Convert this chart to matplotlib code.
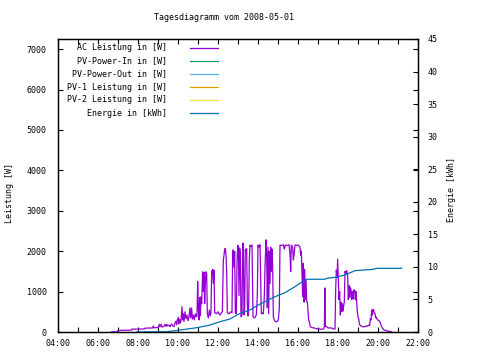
import matplotlib
matplotlib.use("Agg")
import matplotlib.pyplot as plt
from matplotlib.lines import Line2D
import pandas as pd

ac_leistung = [
    ("06:40", 0), ("06:59", 5), ("07:00", 40), ("07:40", 45), ("07:41", 70), ("08:20", 75),
    ("08:21", 95), ("08:44", 100), ("08:46", 150), ("08:48", 105), ("09:00", 110), ("09:04", 190),
    ("09:06", 130), ("09:09", 190), ("09:12", 120), ("09:18", 140), ("09:21", 190), ("09:24", 140),
    ("09:26", 190), ("09:29", 150), ("09:33", 170), ("09:36", 130), ("09:41", 200), ("09:44", 150),
    ("09:48", 130), ("09:51", 220), ("09:54", 270), ("09:56", 180), ("09:58", 300), ("10:01", 360),
    ("10:03", 200), ("10:05", 310), ("10:07", 230), ("10:09", 280), ("10:12", 625), ("10:14", 300),
    ("10:16", 450), ("10:18", 260), ("10:21", 500), ("10:24", 330), ("10:27", 420), ("10:30", 280),
    ("10:33", 380), ("10:36", 600), ("10:38", 350), ("10:41", 590), ("10:43", 320), ("10:46", 420),
    ("10:49", 300), ("10:52", 450), ("10:55", 380), ("10:57", 400), ("10:59", 1245), ("11:01", 600),
    ("11:03", 300), ("11:05", 850), ("11:07", 400), ("11:09", 870), ("11:11", 700), ("11:14", 1490),
    ("11:16", 1000), ("11:18", 1480), ("11:20", 700), ("11:22", 1200), ("11:24", 1490), ("11:26", 1450),
    ("11:28", 450), ("11:31", 350), ("11:34", 545), ("11:37", 400), ("11:39", 500), ("11:41", 1500),
    ("11:44", 1550), ("11:46", 1200), ("11:48", 1530), ("11:50", 480), ("11:55", 450), ("12:00", 500),
    ("12:05", 420), ("12:10", 470), ("12:13", 500), ("12:16", 1790), ("12:18", 1900), ("12:20", 2050),
    ("12:22", 2070), ("12:24", 1900), ("12:26", 1490), ("12:28", 480), ("12:33", 450), ("12:38", 500),
    ("12:42", 470), ("12:44", 2000), ("12:46", 2030), ("12:48", 1600), ("12:50", 1990), ("12:52", 470),
    ("12:55", 450), ("12:57", 1700), ("12:59", 2150), ("13:01", 2100), ("13:03", 900), ("13:05", 2080),
    ("13:07", 1900), ("13:09", 380), ("13:12", 420), ("13:14", 2200), ("13:16", 2190), ("13:18", 430),
    ("13:20", 600), ("13:22", 2050), ("13:24", 2000), ("13:26", 2060), ("13:28", 700), ("13:30", 400),
    ("13:32", 650), ("13:34", 1800), ("13:36", 2150), ("13:39", 2120), ("13:42", 2150), ("13:45", 380),
    ("13:48", 350), ("13:51", 360), ("13:55", 420), ("13:58", 900), ("14:00", 2150), ("14:03", 2100),
    ("14:06", 2160), ("14:08", 1300), ("14:10", 450), ("14:13", 470), ("14:16", 450), ("14:19", 900),
    ("14:21", 1600), ("14:24", 2280), ("14:26", 1900), ("14:28", 600), ("14:30", 2100), ("14:32", 450),
    ("14:34", 2000), ("14:36", 1200), ("14:38", 2100), ("14:40", 1500), ("14:42", 2050), ("14:44", 1600),
    ("14:46", 370), ("14:49", 300), ("14:52", 260), ("14:55", 250), ("14:58", 260), ("15:01", 300),
    ("15:04", 600), ("15:06", 2150), ("15:11", 2140), ("15:16", 2160), ("15:19", 2050), ("15:22", 2150),
    ("15:28", 2140), ("15:33", 2160), ("15:36", 1950), ("15:38", 1500), ("15:40", 2150), ("15:44", 2100),
    ("15:46", 1780), ("15:48", 1900), ("15:51", 2150), ("15:56", 2140), ("16:01", 2150), ("16:06", 2100),
    ("16:08", 1900), ("16:10", 2000), ("16:12", 1460), ("16:14", 875), ("16:16", 1700), ("16:18", 740),
    ("16:20", 1550), ("16:22", 800), ("16:24", 1300), ("16:26", 760), ("16:28", 740), ("16:30", 540),
    ("16:32", 300), ("16:34", 250), ("16:37", 130), ("16:41", 110), ("16:48", 100), ("16:56", 80),
    ("17:06", 70), ("17:16", 70), ("17:19", 120), ("17:21", 1090), ("17:22", 140), ("17:26", 130),
    ("17:31", 100), ("17:41", 100), ("17:46", 75), ("17:51", 75), ("17:53", 1040), ("17:55", 1530),
    ("17:57", 1350), ("17:59", 1800), ("18:01", 1290), ("18:03", 800), ("18:05", 1000), ("18:07", 420),
    ("18:09", 740), ("18:11", 500), ("18:13", 700), ("18:15", 520), ("18:17", 650), ("18:19", 750),
    ("18:21", 1500), ("18:24", 1450), ("18:26", 1520), ("18:29", 1400), ("18:31", 800), ("18:33", 1150),
    ("18:35", 850), ("18:37", 1100), ("18:39", 1050), ("18:41", 800), ("18:43", 1000), ("18:45", 820),
    ("18:47", 1040), ("18:50", 1040), ("18:52", 800), ("18:54", 1000), ("18:56", 740), ("18:58", 500),
    ("19:00", 370), ("19:02", 340), ("19:04", 200), ("19:06", 170), ("19:09", 150), ("19:14", 130),
    ("19:20", 130), ("19:24", 150), ("19:28", 140), ("19:32", 170), ("19:35", 160), ("19:37", 330),
    ("19:39", 300), ("19:41", 540), ("19:43", 420), ("19:45", 560), ("19:47", 540), ("19:49", 470),
    ("19:51", 460), ("19:53", 350), ("19:55", 370), ("19:58", 300), ("20:02", 290), ("20:06", 250),
    ("20:09", 170), ("20:13", 100), ("20:18", 50), ("20:24", 40), ("20:28", 20), ("20:38", 15),
    ("20:41", 0),
]

# Energie [kWh], kumuliert
energie = [
    ("07:56", 0.0), ("09:26", 0.05), ("10:06", 0.3), ("10:56", 0.66), ("11:36", 1.07),
    ("12:06", 1.58), ("12:36", 2.0), ("13:06", 2.87), ("13:36", 3.38), ("14:01", 4.15),
    ("14:21", 4.66), ("14:51", 5.42), ("15:21", 6.04), ("15:51", 6.96), ("16:21", 7.99),
    ("16:26", 8.1), ("17:21", 8.1), ("17:26", 8.25), ("17:51", 8.4), ("18:21", 8.76),
    ("18:51", 9.42), ("19:46", 9.63), ("19:56", 9.78), ("21:11", 9.78),
]

# diese Reihen haben an dem Tag keine Werte
pv_power_in = []
pv_power_out = []
pv1_leistung = []
pv2_leistung = []

zeit_labels = ["04:00", "06:00", "08:00", "10:00", "12:00", "14:00", "16:00",
               "18:00", "20:00", "22:00"]
leistung_ticks = [0, 1000, 2000, 3000, 4000, 5000, 6000, 7000]
energie_ticks = [0, 5, 10, 15, 20, 25, 30, 35, 40, 45]


def stunden(hhmm):
    h, m = hhmm.split(":")
    return int(h) + int(m) / 60


ac = pd.DataFrame(ac_leistung, columns=["zeit", "wert"])
ac["h"] = ac["zeit"].map(stunden)
en = pd.DataFrame(energie, columns=["zeit", "wert"])
en["h"] = en["zeit"].map(stunden)

plt.rcParams["font.family"] = "DejaVu Sans Mono"
plt.rcParams["font.size"] = 6

fig = plt.figure(figsize=(4.8, 3.6), dpi=100)
ax = fig.add_axes([58 / 480, 28 / 360, 360 / 480, 293 / 360])
ax2 = ax.twinx()

farben = ["#9400d3", "#009e73", "#56b4e9", "#e69f00", "#f0e442", "#0072b2"]
namen = ["AC Leistung in [W]", "PV-Power-In in [W]", "PV-Power-Out in [W]",
         "PV-1 Leistung in [W]", "PV-2 Leistung in [W]", "Energie in [kWh]"]

ax.plot(ac["h"], ac["wert"], color=farben[0], lw=0.9)
for reihe, f in zip([pv_power_in, pv_power_out, pv1_leistung, pv2_leistung], farben[1:5]):
    ax.plot([p[0] for p in reihe], [p[1] for p in reihe], color=f, lw=0.9)
ax2.plot(en["h"], en["wert"], color=farben[5], lw=0.9)

ax.set_xlim(4, 22)
ax.set_ylim(0, 7250)
ax2.set_ylim(0, 45)

ax.set_xticks([stunden(t) for t in zeit_labels])
ax.set_xticklabels(zeit_labels)
ax.set_xticks(range(5, 22, 2), minor=True)
ax.set_yticks(leistung_ticks)
ax2.set_yticks(energie_ticks)

ax.tick_params(axis="x", which="both", direction="in", top=True, length=3.5, width=0.8, pad=5)
ax.tick_params(axis="y", direction="in", right=True, length=3.5, width=0.8, pad=8)
ax2.tick_params(axis="y", direction="in", length=3.5, width=0.8, pad=7)

for a in (ax, ax2):
    for s in a.spines.values():
        s.set_linewidth(0.9)

fig.text(10 / 480, 1 - 193 / 360, "Leistung [W]", rotation=90, ha="center", va="center")
fig.text(452 / 480, 1 - 190 / 360, "Energie [kWh]", rotation=90, ha="center", va="center")
fig.text(223.5 / 480, 1 - 18 / 360, "Tagesdiagramm vom 2008-05-01", ha="center", va="center")

# Legende wie bei gnuplot: Text rechtsbuendig, Linie dahinter
for i, (name, f) in enumerate(zip(namen, farben)):
    y = 1 - (48 + 13 * i) / 360
    fig.text(167 / 480, y, name, ha="right", va="center")
    fig.add_artist(Line2D([190 / 480, 218 / 480], [y, y], color=f, lw=0.9,
                          transform=fig.transFigure))

fig.savefig("out.png", dpi=100)
